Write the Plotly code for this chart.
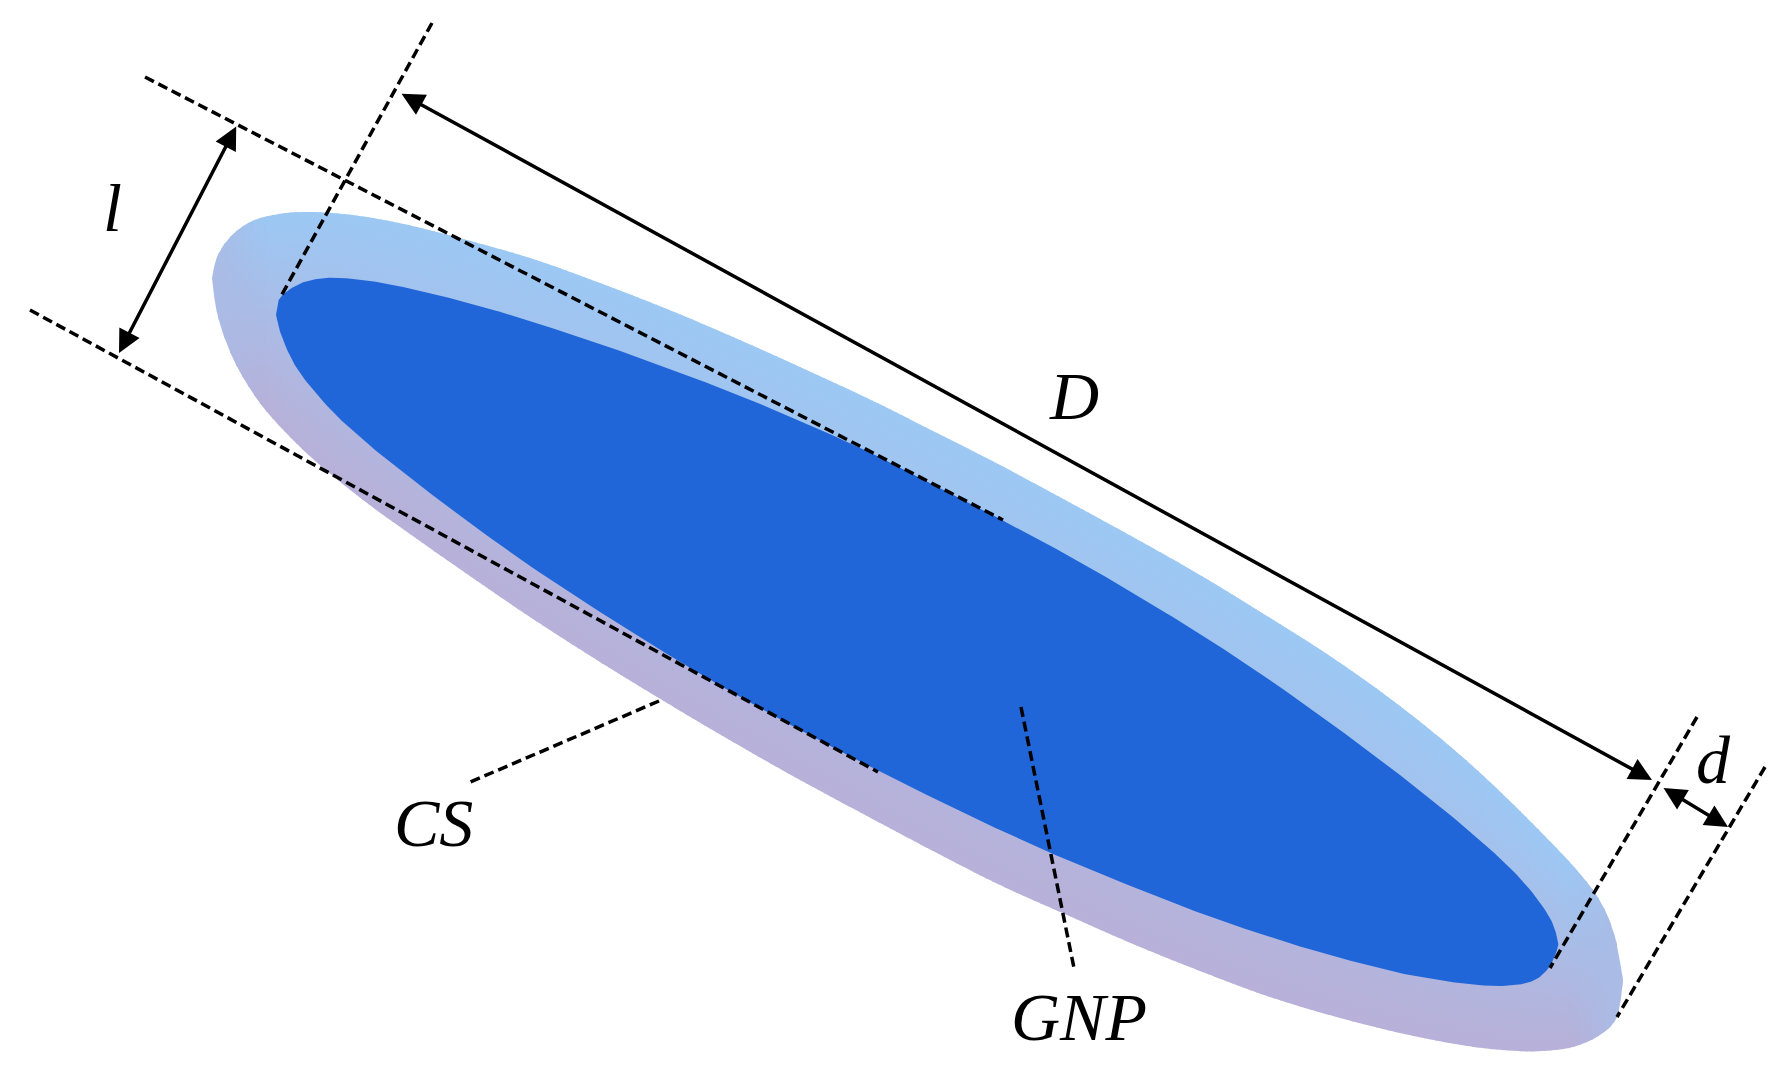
import numpy as np
import plotly.graph_objects as go

outer_top_x = [212, 217, 230, 250, 273, 300, 333, 373, 417, 467, 533, 600, 667, 733, 800, 867, 933, 1000, 1067, 1133, 1200, 1267, 1333, 1400, 1467, 1533, 1590, 1613, 1623]
outer_top_y = [278, 257, 237, 222, 215, 212, 213, 218, 227, 240, 259, 283, 309, 337, 367, 398, 431, 465, 501, 537, 575, 616, 658, 706, 761, 824, 886, 930, 980]
outer_bot_x = [212, 217, 230, 247, 267, 300, 333, 367, 400, 467, 533, 600, 667, 733, 800, 867, 933, 1000, 1067, 1133, 1200, 1267, 1333, 1400, 1467, 1517, 1543, 1573, 1600, 1617, 1623]
outer_bot_y = [278, 313, 352, 384, 412, 447, 476, 503, 527, 574, 619, 662, 703, 742, 780, 816, 851, 885, 915, 944, 971, 996, 1016, 1033, 1046, 1051, 1051, 1047, 1035, 1017, 980]

inner_x = [276, 280, 297, 317, 343, 383, 433, 483, 533, 600, 667, 733, 800, 867, 933, 1000, 1067, 1133, 1200, 1267, 1333, 1400, 1467, 1517, 1547, 1557, 1557, 1547, 1530, 1500, 1467, 1433, 1400, 1333, 1267, 1200, 1133, 1067, 1000, 933, 867, 800, 733, 667, 600, 533, 467, 400, 367, 333, 300, 283, 276]
inner_y = [315, 298, 285, 279, 278, 283, 294, 307, 322, 344, 368, 393, 421, 451, 485, 519, 555, 593, 634, 678, 725, 775, 829, 875, 913, 937, 950, 970, 982, 986, 984, 979, 973, 956, 936, 913, 887, 860, 830, 798, 765, 730, 693, 654, 612, 568, 521, 470, 443, 412, 373, 340, 315]

# x0, y0, x1, y1
dashed_lines = [
    (145, 77, 1003, 520),
    (30, 310, 878, 772),
    (432, 23, 280, 298),
    (1697, 717, 1550, 968),
    (1765, 767, 1617, 1017),
    (659, 701, 468, 783),
    (1021, 707, 1074, 968),
]

arrows = [
    (400, 93, 1652, 780),
    (237, 125, 119, 353),
    (1662, 787, 1728, 827),
]

label_texts = ["l", "D", "d", "CS", "GNP"]
label_x = [112, 1074, 1713, 433, 1079]
label_y = [208, 396, 760, 823, 1017]

RIM_BLUE = np.array([156, 200, 244])
RIM_LAVENDER = np.array([184, 176, 216])
CORE_BLUE = "#2066d8"
STEP = 6


def rgb(c):
    return "rgb(%d,%d,%d)" % tuple(c)


def smooth(xs, ys, n=12):
    # Catmull-Rom through the points
    p = np.column_stack([xs, ys]).astype(float)
    p = np.vstack([p[0], p, p[-1]])
    t = np.linspace(0, 1, n, endpoint=False)[:, None]
    out = []
    for i in range(1, len(p) - 2):
        a, b, c, d = p[i - 1], p[i], p[i + 1], p[i + 2]
        out.append(0.5 * (2 * b + (c - a) * t + (2 * a - 5 * b + 4 * c - d) * t ** 2
                          + (3 * b - a - 3 * c + d) * t ** 3))
    out.append(p[-1][None, :])
    out = np.vstack(out)
    return out[:, 0], out[:, 1]


fig = go.Figure()

top_x, top_y = smooth(outer_top_x, outer_top_y)
bot_x, bot_y = smooth(outer_bot_x, outer_bot_y)
left, right = min(outer_top_x), max(outer_top_x)

# The shell is cut in thin columns, each with its own top-to-bottom gradient
mid = (RIM_BLUE + RIM_LAVENDER) / 2
for x0 in np.arange(left, right, STEP):
    x1 = min(x0 + STEP + 1, right)
    xs = np.linspace(x0, x1, 4)
    top = np.interp(xs, top_x, top_y)
    bot = np.interp(xs, bot_x, bot_y)
    edge = min(min(x0 - left, right - x1) / 50, 1)
    c_top = mid + (RIM_BLUE - mid) * edge
    c_bot = mid + (RIM_LAVENDER - mid) * edge
    fig.add_trace(go.Scatter(
        x=list(xs) + list(xs[::-1]),
        y=list(top) + list(bot[::-1]),
        mode="lines",
        line=dict(width=0),
        fill="toself",
        fillgradient=dict(
            type="vertical",
            colorscale=[[0, rgb(c_top)], [1, rgb(c_bot)]],
            start=float(top.min()),
            stop=float(bot.max()),
        ),
        hoverinfo="skip",
    ))

in_x, in_y = smooth(inner_x, inner_y)
fig.add_trace(go.Scatter(
    x=in_x, y=in_y, mode="lines",
    line=dict(width=0, color=CORE_BLUE),
    fill="toself", fillcolor=CORE_BLUE, hoverinfo="skip",
))

for x0, y0, x1, y1 in dashed_lines:
    fig.add_trace(go.Scatter(
        x=[x0, x1], y=[y0, y1], mode="lines",
        line=dict(color="black", width=3.5, dash="10px,5px"),
        hoverinfo="skip",
    ))

annotations = []
for x0, y0, x1, y1 in arrows:
    annotations.append(dict(
        x=x1, y=y1, ax=x0, ay=y0, xref="x", yref="y", axref="x", ayref="y",
        text="", showarrow=True, arrowhead=2, arrowside="end+start",
        arrowsize=1.3, arrowwidth=3.5, arrowcolor="black",
    ))
for text, x, y in zip(label_texts, label_x, label_y):
    annotations.append(dict(
        x=x, y=y, xref="x", yref="y", text="<i>%s</i>" % text, showarrow=False,
        font=dict(family="Liberation Serif", size=68, color="black"),
    ))

fig.update_layout(
    width=1790, height=1077,
    margin=dict(l=0, r=0, t=0, b=0),
    paper_bgcolor="white", plot_bgcolor="white",
    showlegend=False,
    annotations=annotations,
    xaxis=dict(range=[0, 1790], visible=False),
    yaxis=dict(range=[1077, 0], visible=False),
)

fig.write_html("out.html", config={"displayModeBar": False},
               post_script="document.body.style.margin='0';")
